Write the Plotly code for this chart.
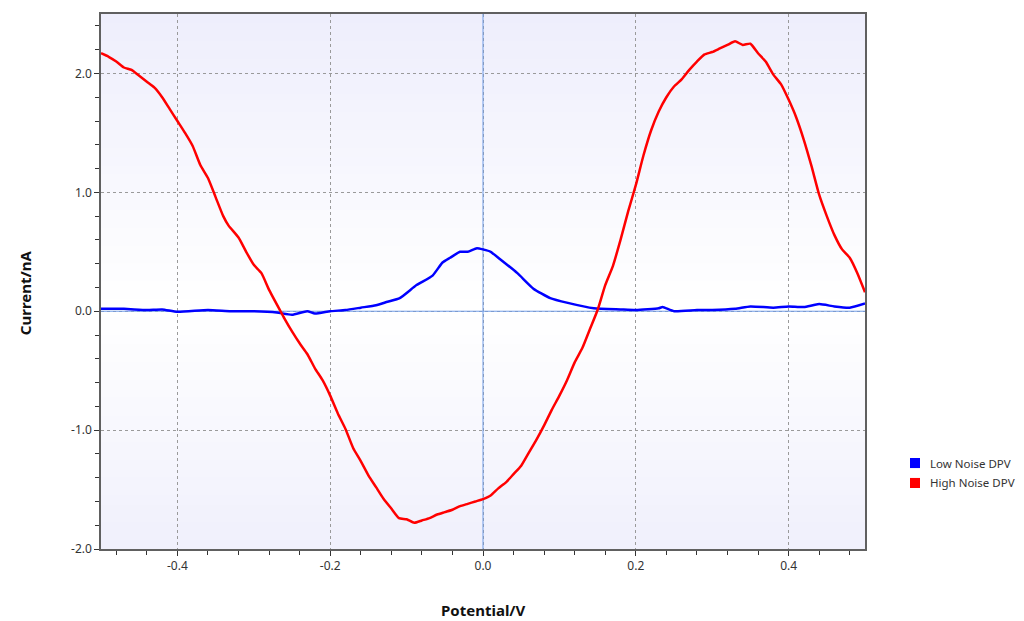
import plotly.graph_objects as go

# ---- data ----
red_x = [-0.50, -0.49, -0.48, -0.47, -0.46, -0.45, -0.44, -0.43, -0.42, -0.41, -0.40, -0.39, -0.38,
         -0.37, -0.36, -0.35, -0.34, -0.333, -0.32, -0.31, -0.30, -0.29, -0.28, -0.265,
         -0.26, -0.25, -0.24, -0.23, -0.22, -0.21, -0.20, -0.19, -0.18, -0.17, -0.16, -0.15, -0.14,
         -0.13, -0.12, -0.11, -0.10, -0.09, -0.08, -0.07, -0.06,
         -0.05, -0.04, -0.03, -0.02, -0.01, 0.00, 0.01, 0.02, 0.03, 0.04, 0.05, 0.06, 0.07, 0.08,
         0.09, 0.10, 0.11, 0.12, 0.13, 0.14, 0.15, 0.16, 0.17, 0.18, 0.19,
         0.20, 0.21, 0.22, 0.23, 0.24, 0.25, 0.26, 0.27, 0.28, 0.29, 0.30, 0.31, 0.32, 0.33, 0.34,
         0.35, 0.36, 0.37, 0.38, 0.39, 0.40, 0.41, 0.42, 0.43,
         0.44, 0.45, 0.46, 0.47, 0.48, 0.49, 0.50]
red_y = [2.17, 2.14, 2.10, 2.05, 2.03, 1.98, 1.93, 1.88, 1.80, 1.70, 1.60, 1.50, 1.39,
         1.23, 1.12, 0.96, 0.80, 0.72, 0.62, 0.50, 0.39, 0.32, 0.18, 0.00,
         -0.06, -0.17, -0.27, -0.36, -0.48, -0.58, -0.71, -0.86, -0.99, -1.15, -1.26, -1.38, -1.48,
         -1.58, -1.66, -1.74, -1.75, -1.78, -1.76, -1.74, -1.71,
         -1.69, -1.67, -1.64, -1.62, -1.60, -1.58, -1.55, -1.49, -1.44, -1.37, -1.30, -1.19, -1.08, -0.96,
         -0.83, -0.71, -0.58, -0.43, -0.31, -0.15, 0.01, 0.22, 0.38, 0.60, 0.84,
         1.06, 1.31, 1.52, 1.68, 1.80, 1.89, 1.95, 2.03, 2.10, 2.16, 2.18, 2.21, 2.24, 2.27, 2.24,
         2.25, 2.17, 2.10, 1.99, 1.91, 1.78, 1.63, 1.44, 1.22,
         0.98, 0.80, 0.64, 0.52, 0.45, 0.32, 0.16]

blue_x = [-0.50, -0.47, -0.44, -0.42, -0.40, -0.36, -0.33, -0.30, -0.27, -0.25, -0.23, -0.22, -0.20,
          -0.18, -0.16, -0.14, -0.125, -0.109, -0.087, -0.066, -0.053, -0.043, -0.03, -0.02, -0.008, 0.00,
          0.01, 0.022, 0.045, 0.066, 0.088, 0.111, 0.145, 0.18, 0.20, 0.23, 0.235, 0.25,
          0.28, 0.30, 0.33, 0.35, 0.38, 0.40, 0.42, 0.44, 0.46, 0.48, 0.50]
blue_y = [0.02, 0.02, 0.01, 0.015, -0.005, 0.01, 0.00, 0.00, -0.01, -0.03, 0.00, -0.02, 0.00,
          0.01, 0.03, 0.05, 0.08, 0.11, 0.22, 0.30, 0.41, 0.45, 0.50, 0.50, 0.53, 0.52,
          0.50, 0.44, 0.32, 0.19, 0.11, 0.07, 0.025, 0.015, 0.01, 0.025, 0.035, 0.00,
          0.01, 0.01, 0.02, 0.04, 0.03, 0.04, 0.035, 0.06, 0.04, 0.03, 0.065]

x_range = [-0.5, 0.5]
y_range = [-2.0, 2.5]
x_tick_vals = [-0.4, -0.2, 0.0, 0.2, 0.4]
x_tick_text = ["-0.4", "-0.2", "0.0", "0.2", "0.4"]
y_tick_vals = [-2.0, -1.0, 0.0, 1.0, 2.0]
y_tick_text = ["-2.0", "-1.0", "0.0", "1.0", "2.0"]

series_names = ["Low Noise DPV", "High Noise DPV"]
series_colors = ["#0000ff", "#ff0000"]
zero_color = "#6f9be6"

fig = go.Figure()
# axis zero reference lines (drawn under the data)
fig.add_trace(go.Scatter(x=x_range, y=[0, 0], mode="lines", line=dict(color=zero_color, width=1),
                         hoverinfo="skip", showlegend=False))
fig.add_trace(go.Scatter(x=[0, 0], y=y_range, mode="lines", line=dict(color=zero_color, width=1),
                         hoverinfo="skip", showlegend=False))
fig.add_trace(go.Scatter(x=blue_x, y=blue_y, mode="lines",
                         line=dict(color=series_colors[0], width=2.5, shape="spline", smoothing=0.5),
                         showlegend=False, name=series_names[0]))
fig.add_trace(go.Scatter(x=red_x, y=red_y, mode="lines",
                         line=dict(color=series_colors[1], width=2.5, shape="spline", smoothing=0.5),
                         showlegend=False, name=series_names[1]))

# gradient background bands
shapes = []
N = 60
top = (238, 238, 252)
mid = (255, 255, 255)
bot = (240, 240, 252)
mid_pos = 0.45
for i in range(N):
    y0 = i / N
    y1 = (i + 1) / N
    yc = (y0 + y1) / 2
    if yc < mid_pos:
        t = yc / mid_pos
        c = tuple(round(bot[k] + (mid[k] - bot[k]) * t) for k in range(3))
    else:
        t = (yc - mid_pos) / (1 - mid_pos)
        c = tuple(round(mid[k] + (top[k] - mid[k]) * t) for k in range(3))
    shapes.append(dict(type="rect", xref="x domain", yref="y domain", x0=0, x1=1, y0=y0, y1=min(1, y1 + 0.002),
                       fillcolor="rgb(%d,%d,%d)" % c, line=dict(width=0), layer="below"))

# manual legend (squares + text)
annotations = []
leg_y = [0.1607, 0.1234]
for n, c, yy in zip(series_names, series_colors, leg_y):
    shapes.append(dict(type="rect", xref="paper", yref="paper", x0=1.0589, x1=1.0720,
                       y0=yy - 0.0094, y1=yy + 0.0094, fillcolor=c, line=dict(width=0)))
    annotations.append(dict(text=n, xref="paper", yref="paper", x=1.0825, y=yy, xanchor="left",
                            yanchor="middle", showarrow=False,
                            font=dict(family="Noto Sans", size=11.5, color="#333333")))

# axis titles as annotations for exact placement
title_font = dict(family="Noto Sans", size=15, color="#111111")
annotations.append(dict(text="<b>Potential/V</b>", xref="paper", yref="paper", x=0.5, y=-0.114,
                        xanchor="center", yanchor="middle", showarrow=False, font=title_font))
annotations.append(dict(text="<b>Current/nA</b>", xref="paper", yref="paper", x=-0.0995, y=0.48,
                        xanchor="center", yanchor="middle", showarrow=False, textangle=-90, font=title_font))

axis_common = dict(
    showline=True, linecolor="#606060", linewidth=1.5, mirror=True,
    ticks="outside", ticklen=5, tickcolor="#333333", tickwidth=1.2,
    showgrid=True, gridcolor="#9a9a9a", griddash="dot", gridwidth=1,
    zeroline=False,
    tickfont=dict(family="Noto Sans", size=12, color="#333333"),
    automargin=False,
)

fig.update_layout(
    width=1024, height=621,
    margin=dict(l=101, r=159, t=14, b=72),
    paper_bgcolor="white", plot_bgcolor="white",
    shapes=shapes, annotations=annotations,
    xaxis=dict(range=x_range, tickvals=x_tick_vals, ticktext=x_tick_text,
               minor=dict(dtick=0.04, tick0=0, ticks="outside", ticklen=4, tickcolor="#333333", showgrid=False),
               **axis_common),
    yaxis=dict(range=y_range, tickvals=y_tick_vals, ticktext=y_tick_text,
               minor=dict(dtick=0.2, tick0=0, ticks="outside", ticklen=4, tickcolor="#333333", showgrid=False),
               **axis_common),
    showlegend=False,
)

fig.write_html("out.html", config={"displayModeBar": False},
               post_script="document.body.style.margin='0px';document.body.style.overflow='hidden';")
